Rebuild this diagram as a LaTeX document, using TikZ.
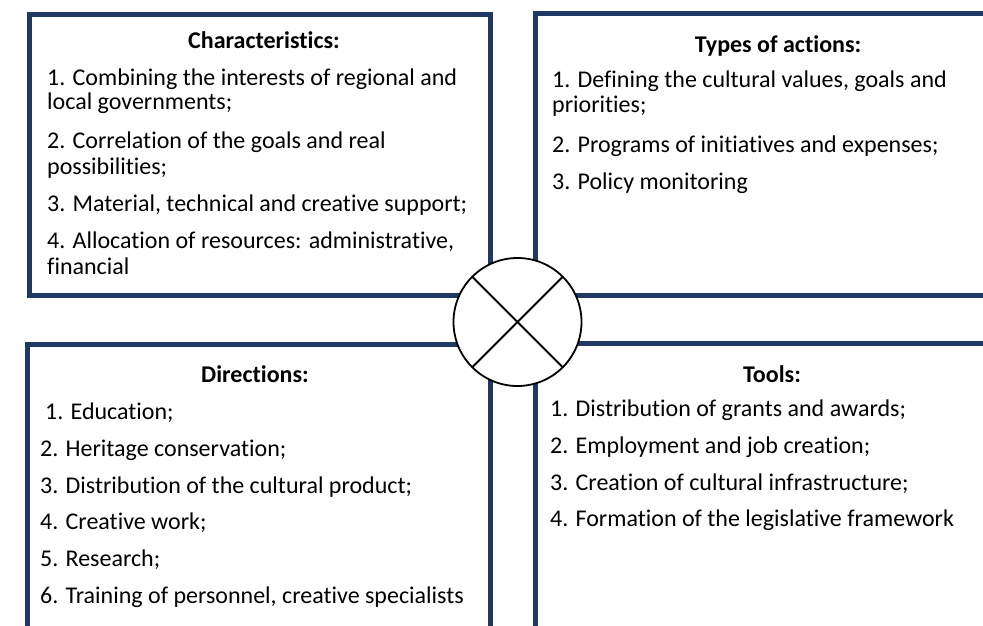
\documentclass[tikz,border=0pt]{standalone}
\usepackage{fontspec}
\setmainfont{Carlito}[Ligatures=NoCommon]
\definecolor{boxblue}{RGB}{31,56,100}
\begin{document}
\begin{tikzpicture}[x=1pt,y=-1pt,
  panel/.style={draw=boxblue,line width=5pt,fill=white,inner sep=0pt,outer sep=0pt},
  body/.style={anchor=base west,inner sep=0pt,font=\fontsize{24}{25}\selectfont},
  head/.style={anchor=base,inner sep=0pt,font=\fontsize{24}{25}\selectfont\bfseries},
  hubstyle/.style={draw=black,circle,line width=1.8pt,fill=white,minimum size=128pt,inner sep=0pt,outer sep=0pt}]
\useasboundingbox (0,0) rectangle (983,626);
\clip (0,0) rectangle (983,626);
% panels
\node[panel,minimum width=460.5pt,minimum height=281pt] (tl) at (259.75,155) {};
\node[panel,minimum width=564.5pt,minimum height=281.5pt] (tr) at (817.75,154.75) {};
\node[panel,minimum width=463pt,minimum height=356pt] (bl) at (258.5,522) {};
\node[panel,minimum width=564.5pt,minimum height=356.5pt] (br) at (817.75,521.75) {};
% hub
\node[hubstyle] (hub) at (517.5,322) {};
\draw[line width=1.8pt] (hub.north west) -- (hub.south east);
\draw[line width=1.8pt] (hub.north east) -- (hub.south west);
% top-left
\node[head] (tlh) at (264,49) {Characteristics:};
\node[body] (tl1) at (47,85) {1. Combining the interests of regional and};
\node[body] (tl2) at (47,110) {local governments;};
\node[body] (tl3) at (47,148) {2. Correlation of the goals and real};
\node[body] (tl4) at (47,174) {possibilities;};
\node[body] (tl5) at (47,211) {3. Material, technical and creative support;};
\node[body] (tl6) at (47,248) {4. Allocation of resources: administrative,};
\node[body] (tl7) at (47,274) {financial};
% top-right
\node[head] (trh) at (778,53) {Types of actions:};
\node[body] (tr1) at (552,88) {1. Defining the cultural values, goals and};
\node[body] (tr2) at (552,113) {priorities;};
\node[body] (tr3) at (552,152) {2. Programs of initiatives and expenses;};
\node[body] (tr4) at (552,189) {3. Policy monitoring};
% bottom-left
\node[head] (blh) at (255,382) {Directions:};
\node[body] (bl1) at (45,419) {1. Education;};
\node[body] (bl2) at (40,456) {2. Heritage conservation;};
\node[body] (bl3) at (40,493) {3. Distribution of the cultural product;};
\node[body] (bl4) at (40,529) {4. Creative work;};
\node[body] (bl5) at (40,566) {5. Research;};
\node[body] (bl6) at (40,603) {6. Training of personnel, creative specialists};
% bottom-right
\node[head] (brh) at (772,382) {Tools:};
\node[body] (br1) at (550,416) {1. Distribution of grants and awards;};
\node[body] (br2) at (550,453) {2. Employment and job creation;};
\node[body] (br3) at (550,490) {3. Creation of cultural infrastructure;};
\node[body] (br4) at (550,526) {4. Formation of the legislative framework};
\end{tikzpicture}
\end{document}
